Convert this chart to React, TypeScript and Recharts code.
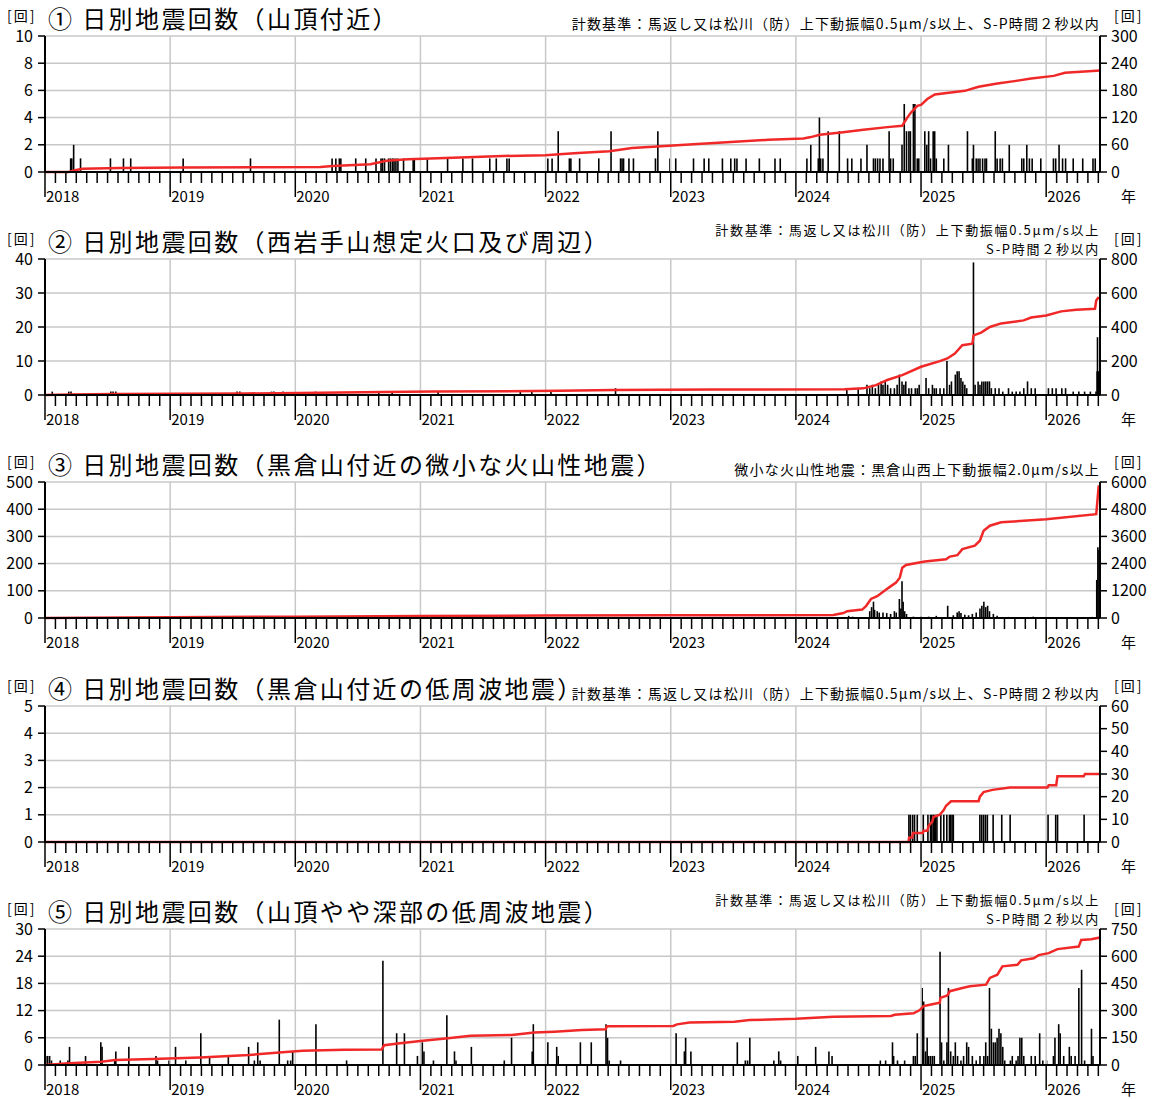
import {
  Bar,
  CartesianGrid,
  ComposedChart,
  Line,
  ReferenceLine,
  XAxis,
  YAxis,
} from 'recharts';

// Daily counts (bars) and cumulative totals (red line), x in decimal years.

const YEARS = [2018, 2019, 2020, 2021, 2022, 2023, 2024, 2025, 2026];
const X_START = 2018;
const X_END = 2026.43;
const MONTH_TICKS = YEARS.flatMap((y) => Array.from({ length: 12 }, (_, m) => y + m / 12)).filter(
  (v) => v <= X_END + 1e-9,
);

const P1_LEFT_TICKS = [0, 2, 4, 6, 8, 10];
const P1_RIGHT_TICKS = [0, 60, 120, 180, 240, 300];
const P1_DAILY: [number, number][] = [
  [2018.205, 1], [2018.214, 1], [2018.229, 2], [2018.284, 1], [2018.523, 1], [2018.627, 1], [2018.685, 1],
  [2019.104, 1], [2019.642, 1], [2020.294, 1], [2020.324, 1], [2020.352, 1], [2020.364, 1], [2020.483, 1],
  [2020.563, 1], [2020.645, 1], [2020.685, 1], [2020.697, 1], [2020.713, 1], [2020.746, 1], [2020.761, 1],
  [2020.777, 1], [2020.789, 1], [2020.804, 1], [2020.82, 1], [2020.865, 1], [2020.942, 1], [2020.951, 1],
  [2021.055, 1], [2021.217, 1], [2021.339, 1], [2021.416, 1], [2021.554, 1], [2021.606, 1], [2021.691, 1],
  [2021.709, 1], [2022.018, 1], [2022.052, 1], [2022.101, 3], [2022.19, 1], [2022.202, 1], [2022.272, 1],
  [2022.425, 1], [2022.523, 3], [2022.599, 1], [2022.611, 1], [2022.623, 1], [2022.666, 1], [2022.702, 1],
  [2022.878, 1], [2022.897, 3], [2022.994, 1], [2023.04, 1], [2023.182, 1], [2023.267, 1], [2023.304, 1],
  [2023.413, 1], [2023.48, 1], [2023.511, 1], [2023.529, 1], [2023.602, 1], [2023.708, 1], [2023.833, 1],
  [2023.875, 1], [2024.088, 1], [2024.119, 2], [2024.179, 1], [2024.188, 4], [2024.198, 1], [2024.216, 1],
  [2024.258, 3], [2024.347, 3], [2024.413, 1], [2024.447, 1], [2024.52, 1], [2024.568, 2], [2024.62, 1],
  [2024.635, 1], [2024.653, 1], [2024.672, 1], [2024.696, 1], [2024.745, 3], [2024.757, 1], [2024.778, 1],
  [2024.848, 2], [2024.866, 5], [2024.884, 3], [2024.903, 3], [2024.915, 3], [2024.939, 5], [2024.951, 5],
  [2024.97, 1], [2024.982, 1], [2025.03, 3], [2025.046, 2], [2025.061, 3], [2025.076, 1], [2025.097, 3],
  [2025.109, 3], [2025.122, 1], [2025.182, 1], [2025.219, 2], [2025.371, 3], [2025.41, 1], [2025.419, 2],
  [2025.441, 1], [2025.456, 1], [2025.471, 1], [2025.492, 1], [2025.511, 1], [2025.523, 1], [2025.593, 3],
  [2025.608, 1], [2025.632, 1], [2025.65, 1], [2025.705, 2], [2025.805, 1], [2025.821, 1], [2025.845, 2],
  [2025.866, 1], [2025.888, 1], [2025.957, 1], [2026.058, 1], [2026.076, 1], [2026.103, 2], [2026.131, 1],
  [2026.155, 1], [2026.216, 1], [2026.292, 1], [2026.374, 1], [2026.392, 1],
];
const P1_CUMULATIVE: [number, number][] = [
  [2018, 0], [2018.19, 0], [2018.24, 4], [2018.3, 7], [2018.6, 9], [2019.1, 10], [2020.2, 11], [2020.3, 13],
  [2020.6, 17], [2020.73, 25], [2020.9, 28], [2021.2, 31], [2021.6, 35], [2022.0, 37], [2022.11, 39],
  [2022.26, 42], [2022.51, 46], [2022.69, 53], [2022.89, 56], [2023.18, 61], [2023.48, 66], [2023.78, 71],
  [2024.06, 74], [2024.12, 77], [2024.19, 82], [2024.36, 87], [2024.54, 93], [2024.73, 99], [2024.85, 102],
  [2024.89, 120], [2024.92, 131], [2024.97, 146], [2025.0, 148], [2025.05, 161], [2025.11, 171],
  [2025.35, 179], [2025.46, 188], [2025.61, 195], [2025.76, 201], [2025.88, 206], [2026.06, 212],
  [2026.15, 219], [2026.37, 223], [2026.43, 224],
];

const P2_LEFT_TICKS = [0, 10, 20, 30, 40];
const P2_RIGHT_TICKS = [0, 200, 400, 600, 800];
const P2_DAILY: [number, number][] = [
  [2018.058, 1], [2018.19, 1], [2018.208, 1], [2018.526, 1], [2018.544, 1], [2018.566, 1], [2019.535, 1],
  [2019.557, 1], [2019.81, 1], [2019.829, 1], [2019.902, 1], [2020.162, 1], [2020.667, 1], [2020.774, 1],
  [2021.141, 1], [2021.798, 1], [2021.89, 1], [2022.043, 1], [2022.559, 2], [2024.407, 2], [2024.498, 2],
  [2024.568, 3], [2024.59, 2], [2024.611, 3], [2024.635, 2], [2024.66, 3], [2024.681, 4], [2024.696, 3],
  [2024.714, 4], [2024.733, 3], [2024.757, 2], [2024.787, 2], [2024.809, 3], [2024.827, 6], [2024.848, 4],
  [2024.863, 3], [2024.878, 4], [2024.903, 2], [2024.924, 2], [2024.954, 2], [2024.97, 2], [2024.985, 3],
  [2025.04, 5], [2025.061, 2], [2025.091, 3], [2025.106, 2], [2025.122, 2], [2025.152, 2], [2025.182, 2],
  [2025.207, 10], [2025.228, 3], [2025.243, 4], [2025.274, 6], [2025.289, 7], [2025.304, 7], [2025.319, 5],
  [2025.334, 4], [2025.35, 3], [2025.365, 2], [2025.419, 39], [2025.432, 3], [2025.456, 4], [2025.471, 3],
  [2025.486, 4], [2025.502, 4], [2025.517, 4], [2025.532, 4], [2025.547, 4], [2025.562, 2], [2025.593, 2],
  [2025.623, 2], [2025.653, 1], [2025.699, 2], [2025.729, 1], [2025.76, 1], [2025.79, 1], [2025.821, 2],
  [2025.851, 4], [2025.881, 2], [2025.912, 2], [2026.018, 2], [2026.049, 2], [2026.079, 2], [2026.125, 2],
  [2026.155, 2], [2026.216, 1], [2026.261, 1], [2026.307, 1], [2026.353, 1], [2026.398, 1], [2026.407, 7],
  [2026.41, 17], [2026.416, 7],
];
const P2_CUMULATIVE: [number, number][] = [
  [2018, 0], [2018.2, 3], [2018.56, 6], [2019.6, 9], [2020.2, 13], [2020.7, 17], [2021.1, 20], [2021.9, 23],
  [2022.11, 25], [2022.54, 29], [2023.33, 32], [2024.39, 34], [2024.54, 39], [2024.64, 58], [2024.73, 88],
  [2024.85, 117], [2025.0, 166], [2025.15, 199], [2025.21, 215], [2025.27, 244], [2025.33, 293],
  [2025.41, 302], [2025.42, 351], [2025.48, 367], [2025.55, 400], [2025.64, 421], [2025.82, 439],
  [2025.88, 456], [2026.0, 468], [2026.12, 492], [2026.24, 501], [2026.39, 507], [2026.4, 556],
  [2026.42, 576],
];

const P3_LEFT_TICKS = [0, 100, 200, 300, 400, 500];
const P3_RIGHT_TICKS = [0, 1200, 2400, 3600, 4800, 6000];
const P3_DAILY: [number, number][] = [
  [2024.422, 8], [2024.453, 5], [2024.59, 25], [2024.605, 40], [2024.62, 60], [2024.629, 30], [2024.65, 25],
  [2024.666, 20], [2024.696, 20], [2024.726, 18], [2024.757, 15], [2024.787, 25], [2024.802, 20],
  [2024.827, 70], [2024.839, 35], [2024.848, 135], [2024.857, 60], [2024.869, 25], [2024.884, 15],
  [2024.939, 5], [2025.0, 6], [2025.061, 5], [2025.122, 8], [2025.213, 45], [2025.258, 10], [2025.289, 20],
  [2025.304, 25], [2025.319, 18], [2025.35, 12], [2025.38, 10], [2025.41, 15], [2025.441, 20],
  [2025.471, 35], [2025.486, 45], [2025.502, 60], [2025.517, 40], [2025.532, 45], [2025.547, 25],
  [2025.578, 15], [2025.608, 8], [2025.699, 4], [2025.79, 3], [2025.897, 5], [2026.003, 3], [2026.125, 3],
  [2026.246, 3], [2026.368, 4], [2026.404, 140], [2026.413, 260], [2026.422, 250],
];
const P3_CUMULATIVE: [number, number][] = [
  [2018, 0], [2019, 30], [2020, 60], [2021, 85], [2022, 105], [2023, 120], [2024.3, 130], [2024.38, 220],
  [2024.41, 300], [2024.53, 370], [2024.56, 520], [2024.6, 840], [2024.65, 960], [2024.74, 1330],
  [2024.8, 1560], [2024.83, 1780], [2024.85, 2220], [2024.88, 2340], [2025.03, 2490], [2025.2, 2590],
  [2025.23, 2710], [2025.29, 2770], [2025.33, 3040], [2025.43, 3190], [2025.47, 3410], [2025.5, 3850],
  [2025.55, 4070], [2025.64, 4220], [2026.0, 4360], [2026.4, 4580], [2026.42, 5850],
];

const P4_LEFT_TICKS = [0, 1, 2, 3, 4, 5];
const P4_RIGHT_TICKS = [0, 10, 20, 30, 40, 50, 60];
const P4_DAILY: [number, number][] = [
  [2024.903, 1], [2024.915, 1], [2024.933, 1], [2024.948, 1], [2024.97, 1], [2025.018, 1], [2025.055, 1],
  [2025.076, 1], [2025.085, 1], [2025.097, 1], [2025.106, 1], [2025.115, 1], [2025.127, 1], [2025.158, 1],
  [2025.182, 1], [2025.206, 1], [2025.227, 1], [2025.236, 1], [2025.248, 1], [2025.258, 1], [2025.47, 1],
  [2025.485, 1], [2025.5, 1], [2025.515, 1], [2025.53, 1], [2025.576, 1], [2025.645, 1], [2025.712, 1],
  [2026.015, 1], [2026.076, 1], [2026.091, 1], [2026.303, 1],
];
const P4_CUMULATIVE: [number, number][] = [
  [2018, 0], [2024.9, 0], [2024.905, 2], [2024.93, 2], [2024.935, 4], [2025.015, 4], [2025.02, 5],
  [2025.05, 5], [2025.06, 7], [2025.09, 9], [2025.1, 11], [2025.15, 12], [2025.18, 14], [2025.2, 16],
  [2025.24, 18], [2025.46, 18], [2025.47, 20], [2025.5, 22], [2025.57, 23], [2025.71, 24], [2026.01, 24],
  [2026.02, 25], [2026.08, 25], [2026.09, 29], [2026.3, 29], [2026.31, 30], [2026.43, 30],
];

const P5_LEFT_TICKS = [0, 6, 12, 18, 24, 30];
const P5_RIGHT_TICKS = [0, 150, 300, 450, 600, 750];
const P5_DAILY: [number, number][] = [
  [2018.006, 2], [2018.021, 2], [2018.037, 2], [2018.052, 1], [2018.122, 1], [2018.183, 1], [2018.196, 4],
  [2018.324, 2], [2018.446, 5], [2018.456, 4], [2018.557, 1], [2018.566, 3], [2018.67, 4], [2018.887, 2],
  [2018.899, 1], [2018.991, 1], [2019.043, 4], [2019.125, 1], [2019.245, 7], [2019.315, 2], [2019.465, 2],
  [2019.627, 4], [2019.673, 1], [2019.7, 5], [2019.719, 1], [2019.872, 10], [2019.939, 1], [2019.963, 1],
  [2019.979, 3], [2020.165, 9], [2020.41, 1], [2020.7, 23], [2020.81, 7], [2020.872, 7], [2020.976, 2],
  [2021.015, 5], [2021.028, 3], [2021.104, 1], [2021.211, 11], [2021.272, 3], [2021.284, 1], [2021.407, 4],
  [2021.67, 1], [2021.728, 6], [2021.893, 3], [2021.902, 9], [2022.018, 5], [2022.089, 4], [2022.101, 2],
  [2022.278, 5], [2022.365, 5], [2022.483, 9], [2022.495, 6], [2022.508, 1], [2022.599, 1], [2023.043, 7],
  [2023.109, 3], [2023.119, 6], [2023.161, 3], [2023.532, 5], [2023.596, 1], [2023.614, 1], [2023.632, 6],
  [2023.824, 1], [2023.863, 3], [2023.878, 1], [2024.015, 2], [2024.158, 4], [2024.264, 3], [2024.289, 2],
  [2024.675, 1], [2024.717, 1], [2024.772, 5], [2024.781, 2], [2024.812, 1], [2024.869, 1], [2024.939, 2],
  [2024.954, 2], [2024.97, 7], [2025.009, 17], [2025.021, 14], [2025.036, 3], [2025.049, 6], [2025.061, 2],
  [2025.076, 2], [2025.091, 2], [2025.106, 2], [2025.152, 25], [2025.164, 5], [2025.182, 1], [2025.207, 5],
  [2025.219, 17], [2025.237, 3], [2025.258, 2], [2025.274, 5], [2025.292, 2], [2025.319, 1], [2025.34, 2],
  [2025.365, 5], [2025.38, 4], [2025.41, 2], [2025.441, 1], [2025.471, 2], [2025.502, 2], [2025.517, 5],
  [2025.532, 2], [2025.547, 17], [2025.562, 8], [2025.578, 5], [2025.593, 5], [2025.608, 6], [2025.623, 8],
  [2025.638, 7], [2025.653, 4], [2025.669, 1], [2025.714, 1], [2025.729, 2], [2025.76, 1], [2025.775, 2],
  [2025.79, 6], [2025.805, 6], [2025.821, 2], [2025.881, 2], [2025.912, 2], [2025.948, 7], [2025.973, 1],
  [2026.003, 1], [2026.058, 2], [2026.07, 6], [2026.1, 9], [2026.112, 7], [2026.14, 2], [2026.185, 4],
  [2026.2, 2], [2026.231, 2], [2026.261, 17], [2026.283, 21], [2026.307, 1], [2026.362, 8], [2026.374, 2],
];
const P5_CUMULATIVE: [number, number][] = [
  [2018, 0], [2018.19, 9], [2018.45, 18], [2018.56, 27], [2018.86, 33], [2019.24, 42], [2019.63, 55],
  [2019.87, 69], [2020.06, 78], [2020.39, 84], [2020.69, 86], [2020.71, 109], [2020.82, 119], [2021.0, 133],
  [2021.22, 148], [2021.4, 161], [2021.73, 166], [2021.91, 179], [2022.07, 184], [2022.29, 193],
  [2022.48, 197], [2022.49, 214], [2023.02, 215], [2023.05, 224], [2023.15, 234], [2023.51, 239],
  [2023.63, 248], [2024.0, 255], [2024.3, 266], [2024.76, 270], [2024.79, 277], [2024.94, 285],
  [2024.99, 303], [2025.02, 325], [2025.08, 334], [2025.15, 343], [2025.155, 370], [2025.21, 383],
  [2025.23, 407], [2025.33, 425], [2025.39, 434], [2025.52, 443], [2025.55, 480], [2025.61, 498],
  [2025.65, 544], [2025.77, 553], [2025.8, 577], [2025.9, 589], [2025.94, 606], [2026.02, 617],
  [2026.09, 639], [2026.26, 653], [2026.28, 690], [2026.36, 693], [2026.43, 703],
];

const NOTE_MAIN = '計数基準：馬返し又は松川（防）上下動振幅0.5μm/s以上、S-P時間２秒以内';
const NOTE_LINE1 = '計数基準：馬返し又は松川（防）上下動振幅0.5μm/s以上';
const NOTE_LINE2 = 'S-P時間２秒以内';
const NOTE_P3 = '微小な火山性地震：黒倉山西上下動振幅2.0μm/s以上';

const GRID = '#c8c8c8';
const RED = '#f02828';
const FONT = "'Noto Sans CJK JP', 'Noto Sans', sans-serif";

function MonthTick(props: any) {
  const { x, y, payload } = props;
  const v = payload.value as number;
  const isYear = Math.abs(v - Math.round(v)) < 1e-6;
  return (
    <g>
      <line x1={x} y1={y} x2={x} y2={y + (isYear ? 25 : 11)} stroke="#000" strokeWidth={1.5} />
      {isYear && (
        <text x={x + 1} y={y + 30} fontSize={15} fill="#000" fontFamily={FONT}>
          {Math.round(v)}
        </text>
      )}
    </g>
  );
}

// one day's count drawn as a thin black spike
function Spike(props: any) {
  const { x, y, width, height } = props;
  if (!height || height <= 0) return null;
  const cx = x + width / 2;
  return <line x1={cx} y1={y} x2={cx} y2={y + height} stroke="#000" strokeWidth={1.6} />;
}

type PanelProps = {
  top: number;
  title: string;
  notes: string[];
  daily: [number, number][];
  cumulative: [number, number][];
  leftTicks: number[];
  rightTicks: number[];
};

function Panel({ top, title, notes, daily, cumulative, leftTicks, rightTicks }: PanelProps) {
  const rows = [
    ...daily.map(([x, n]) => ({ x, n })),
    ...cumulative.map(([x, c]) => ({ x, c })),
  ].sort((a, b) => a.x - b.x);
  const axisLine = { stroke: '#000', strokeWidth: 2 };
  const tickStyle = { fill: '#000', fontSize: 16, fontFamily: FONT };
  const twoLine = notes.length > 1;

  return (
    <div style={{ position: 'absolute', left: 0, top, width: 1156, height: 223 }}>
      <ComposedChart width={1156} height={223} data={rows} margin={{ top: 36, right: 0, bottom: 21, left: 0 }}>
        <CartesianGrid yAxisId="l" vertical={false} stroke={GRID} strokeWidth={1.5} />
        {YEARS.slice(1).map((y) => (
          <ReferenceLine key={y} x={y} yAxisId="l" stroke={GRID} strokeWidth={1.5} />
        ))}
        <XAxis
          type="number"
          dataKey="x"
          domain={[X_START, X_END]}
          ticks={MONTH_TICKS}
          interval={0}
          tick={<MonthTick />}
          tickLine={false}
          tickSize={0}
          tickMargin={0}
          axisLine={axisLine}
          height={30}
        />
        <XAxis
          xAxisId="top"
          orientation="top"
          type="number"
          dataKey="x"
          domain={[X_START, X_END]}
          tick={false}
          tickLine={false}
          axisLine={axisLine}
          height={0}
        />
        <YAxis
          yAxisId="l"
          domain={[0, leftTicks[leftTicks.length - 1]]}
          ticks={leftTicks}
          interval={0}
          width={45}
          tickSize={7}
          tickMargin={5}
          tickLine={{ stroke: '#000', strokeWidth: 1.5 }}
          axisLine={axisLine}
          tick={tickStyle}
        />
        <YAxis
          yAxisId="r"
          orientation="right"
          domain={[0, rightTicks[rightTicks.length - 1]]}
          ticks={rightTicks}
          interval={0}
          width={56}
          tickSize={7}
          tickMargin={4}
          tickLine={{ stroke: '#000', strokeWidth: 1.5 }}
          axisLine={axisLine}
          tick={tickStyle}
        />
        <Bar yAxisId="l" dataKey="n" fill="#000" barSize={1} shape={<Spike />} isAnimationActive={false} />
        <Line
          yAxisId="r"
          dataKey="c"
          type="linear"
          stroke={RED}
          strokeWidth={2.5}
          dot={false}
          connectNulls
          isAnimationActive={false}
        />
      </ComposedChart>

      <div style={{ position: 'absolute', left: 7, top: 8, fontSize: 14, lineHeight: '15px', letterSpacing: 2 }}>
        [回]
      </div>
      <div
        style={{
          position: 'absolute',
          left: 48,
          top: 5,
          fontSize: 24,
          lineHeight: '26px',
          letterSpacing: 2.4,
          whiteSpace: 'nowrap',
        }}
      >
        {title}
      </div>
      <div
        style={{
          position: 'absolute',
          right: 56,
          top: twoLine ? -3 : 15,
          fontSize: twoLine ? 13 : 14,
          lineHeight: twoLine ? '19px' : '16px',
          letterSpacing: twoLine ? 1.7 : 1.2,
          textAlign: 'right',
          whiteSpace: 'nowrap',
        }}
      >
        {notes.map((t) => (
          <div key={t}>{t}</div>
        ))}
      </div>
      <div style={{ position: 'absolute', left: 1114, top: 8, fontSize: 14, lineHeight: '15px', letterSpacing: 2 }}>
        [回]
      </div>
      <div style={{ position: 'absolute', left: 1121, top: 188, fontSize: 15, lineHeight: '16px' }}>年</div>
    </div>
  );
}

export default function App() {
  return (
    <div
      style={{
        position: 'absolute',
        left: 0,
        top: 0,
        width: 1156,
        height: 1099,
        overflow: 'hidden',
        background: '#fff',
        color: '#000',
        fontFamily: FONT,
      }}
    >
      <Panel
        top={0}
        title="① 日別地震回数（山頂付近）"
        notes={[NOTE_MAIN]}
        daily={P1_DAILY}
        cumulative={P1_CUMULATIVE}
        leftTicks={P1_LEFT_TICKS}
        rightTicks={P1_RIGHT_TICKS}
      />
      <Panel
        top={223}
        title="② 日別地震回数（西岩手山想定火口及び周辺）"
        notes={[NOTE_LINE1, NOTE_LINE2]}
        daily={P2_DAILY}
        cumulative={P2_CUMULATIVE}
        leftTicks={P2_LEFT_TICKS}
        rightTicks={P2_RIGHT_TICKS}
      />
      <Panel
        top={446}
        title="③ 日別地震回数（黒倉山付近の微小な火山性地震）"
        notes={[NOTE_P3]}
        daily={P3_DAILY}
        cumulative={P3_CUMULATIVE}
        leftTicks={P3_LEFT_TICKS}
        rightTicks={P3_RIGHT_TICKS}
      />
      <Panel
        top={670}
        title="④ 日別地震回数（黒倉山付近の低周波地震）"
        notes={[NOTE_MAIN]}
        daily={P4_DAILY}
        cumulative={P4_CUMULATIVE}
        leftTicks={P4_LEFT_TICKS}
        rightTicks={P4_RIGHT_TICKS}
      />
      <Panel
        top={893}
        title="⑤ 日別地震回数（山頂やや深部の低周波地震）"
        notes={[NOTE_LINE1, NOTE_LINE2]}
        daily={P5_DAILY}
        cumulative={P5_CUMULATIVE}
        leftTicks={P5_LEFT_TICKS}
        rightTicks={P5_RIGHT_TICKS}
      />
    </div>
  );
}
